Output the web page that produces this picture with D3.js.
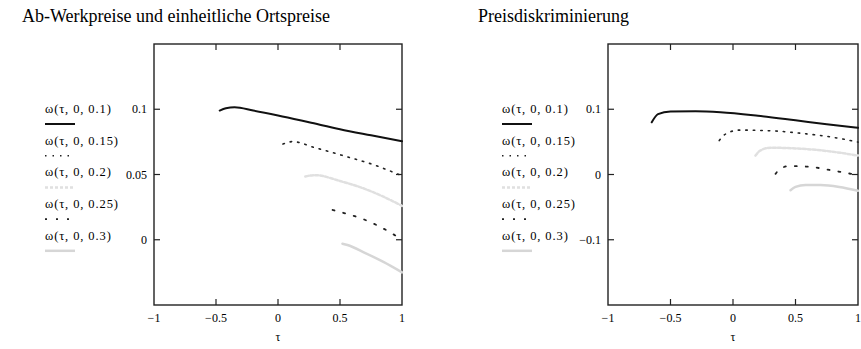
<!DOCTYPE html>
<html>
<head>
<meta charset="utf-8">
<script src="https://cdn.jsdelivr.net/npm/d3@7"></script>
<style>
  body { margin: 0; background: #fff; }
  svg text { font-family: "Liberation Serif", "Times New Roman", serif; fill: #000; }
</style>
</head>
<body>
<svg id="chart" width="861" height="349"></svg>
<script>
// legend labels and x ticks shared by both panels
var seriesNames = ["ω(τ, 0, 0.1)", "ω(τ, 0, 0.15)", "ω(τ, 0, 0.2)", "ω(τ, 0, 0.25)", "ω(τ, 0, 0.3)"];
var xTicks = [-1, -0.5, 0, 0.5, 1];

// left panel: Ab-Werkpreise und einheitliche Ortspreise
var leftTicksY = [0, 0.05, 0.1];
var leftTau1 = [-0.47, -0.42, -0.35, -0.2, 0, 0.25, 0.5, 0.75, 1];
var leftVal1 = [0.099, 0.1008, 0.1015, 0.099, 0.0952, 0.090, 0.0847, 0.080, 0.0754];
var leftTau2 = [0.04, 0.12, 0.3, 0.55, 0.77, 1];
var leftVal2 = [0.0733, 0.0752, 0.0705, 0.0638, 0.0575, 0.049];
var leftTau3 = [0.22, 0.3, 0.5, 0.7, 0.85, 1];
var leftVal3 = [0.0485, 0.0495, 0.045, 0.039, 0.033, 0.026];
var leftTau4 = [0.44, 0.55, 0.69, 0.8, 0.92, 1];
var leftVal4 = [0.0228, 0.020, 0.0157, 0.011, 0.0048, 0];
var leftTau5 = [0.52, 0.56, 0.7, 0.85, 1];
var leftVal5 = [-0.003, -0.004, -0.010, -0.017, -0.025];

// right panel: Preisdiskriminierung
var rightTicksY = [-0.1, 0, 0.1];
var rightTau1 = [-0.65, -0.6, -0.5, -0.3, -0.1, 0.2, 0.5, 0.75, 1];
var rightVal1 = [0.080, 0.0925, 0.0965, 0.097, 0.0955, 0.090, 0.083, 0.077, 0.0715];
var rightTau2 = [-0.11, -0.06, 0.05, 0.3, 0.6, 0.8, 1];
var rightVal2 = [0.052, 0.062, 0.068, 0.067, 0.062, 0.057, 0.0497];
var rightTau3 = [0.18, 0.22, 0.3, 0.5, 0.75, 1];
var rightVal3 = [0.029, 0.037, 0.041, 0.040, 0.036, 0.029];
var rightTau4 = [0.34, 0.38, 0.45, 0.6, 0.8, 1];
var rightVal4 = [0.001, 0.009, 0.013, 0.012, 0.006, -0.001];
var rightTau5 = [0.46, 0.5, 0.58, 0.7, 0.85, 1];
var rightVal5 = [-0.024, -0.019, -0.016, -0.016, -0.019, -0.025];

var styles = [
  {color: "#111", width: 2, dash: null},
  {color: "#222", width: 1.6, dash: "1.5,6"},
  {color: "#e0e0e0", width: 2.5, dash: "3,2"},
  {color: "#222", width: 1.8, dash: "2,9"},
  {color: "#d6d6d6", width: 2.5, dash: null}
];

var svg = d3.select("#chart");

function fmt(v){
  return v < 0 ? "\u2212" + Math.abs(v) : String(v);
}

function drawPanel(cfg){
  var g = svg.append("g");
  var x = d3.scaleLinear().domain([-1, 1]).range([cfg.left, cfg.right]);
  var y = d3.scaleLinear().domain(cfg.yDomain).range([305, 44]);

  g.append("text")
    .attr("x", cfg.titleX).attr("y", 22)
    .style("font-size", "18px")
    .text(cfg.title);

  // frame
  g.append("rect")
    .attr("x", cfg.left).attr("y", 44)
    .attr("width", cfg.right - cfg.left).attr("height", 261)
    .attr("fill", "none").attr("stroke", "#222").attr("stroke-width", 1.4);

  // inner ticks on all four sides
  var innerX = xTicks.filter(function(t){ return t > -1 && t < 1; });
  g.selectAll(".tb").data(innerX).enter().append("line")
    .attr("x1", function(d){ return x(d); }).attr("x2", function(d){ return x(d); })
    .attr("y1", 305).attr("y2", 299)
    .attr("stroke", "#222").attr("stroke-width", 1.2);
  g.selectAll(".tt").data(innerX).enter().append("line")
    .attr("x1", function(d){ return x(d); }).attr("x2", function(d){ return x(d); })
    .attr("y1", 44).attr("y2", 50)
    .attr("stroke", "#222").attr("stroke-width", 1.2);
  g.selectAll(".tl").data(cfg.yTicks).enter().append("line")
    .attr("x1", cfg.left).attr("x2", cfg.left + 6)
    .attr("y1", function(d){ return y(d); }).attr("y2", function(d){ return y(d); })
    .attr("stroke", "#222").attr("stroke-width", 1.2);
  g.selectAll(".tr").data(cfg.yTicks).enter().append("line")
    .attr("x1", cfg.right).attr("x2", cfg.right - 6)
    .attr("y1", function(d){ return y(d); }).attr("y2", function(d){ return y(d); })
    .attr("stroke", "#222").attr("stroke-width", 1.2);

  g.selectAll(".xl").data(xTicks).enter().append("text")
    .attr("x", function(d){ return x(d); }).attr("y", 322)
    .attr("text-anchor", "middle")
    .style("font-size", "12px")
    .text(fmt);
  g.selectAll(".yl").data(cfg.yTicks).enter().append("text")
    .attr("x", cfg.left - 7).attr("y", function(d){ return y(d) + 4; })
    .attr("text-anchor", "end")
    .style("font-size", "12px")
    .text(fmt);

  g.append("text")
    .attr("x", x(0)).attr("y", 341)
    .attr("text-anchor", "middle")
    .style("font-size", "12px")
    .text("τ");

  var line = d3.line()
    .x(function(d){ return x(d[0]); })
    .y(function(d){ return y(d[1]); })
    .curve(d3.curveMonotoneX);

  cfg.series.forEach(function(s, i){
    var pts = d3.zip(s[0], s[1]);
    var st = styles[i];
    g.append("path")
      .attr("d", line(pts))
      .attr("fill", "none")
      .attr("stroke", st.color)
      .attr("stroke-width", st.width)
      .attr("stroke-linecap", "round")
      .attr("stroke-dasharray", st.dash);
  });

  // legend
  seriesNames.forEach(function(name, i){
    var ly = 113 + i * 31.7;
    var st = styles[i];
    g.append("text")
      .attr("x", cfg.legendX).attr("y", ly)
      .style("font-size", "12.5px")
      .style("letter-spacing", "0.9px")
      .text(name);
    g.append("line")
      .attr("x1", cfg.legendX).attr("x2", cfg.legendX + 30)
      .attr("y1", ly + 11).attr("y2", ly + 11)
      .attr("stroke", st.color)
      .attr("stroke-width", st.width)
      .attr("stroke-dasharray", st.dash);
  });
}

drawPanel({
  title: "Ab-Werkpreise und einheitliche Ortspreise",
  titleX: 22, left: 154, right: 402, legendX: 45,
  yDomain: [-0.05, 0.15], yTicks: leftTicksY,
  series: [[leftTau1, leftVal1], [leftTau2, leftVal2], [leftTau3, leftVal3], [leftTau4, leftVal4], [leftTau5, leftVal5]]
});

drawPanel({
  title: "Preisdiskriminierung",
  titleX: 478, left: 608, right: 858, legendX: 502,
  yDomain: [-0.2, 0.2], yTicks: rightTicksY,
  series: [[rightTau1, rightVal1], [rightTau2, rightVal2], [rightTau3, rightVal3], [rightTau4, rightVal4], [rightTau5, rightVal5]]
});
</script>
</body>
</html>
